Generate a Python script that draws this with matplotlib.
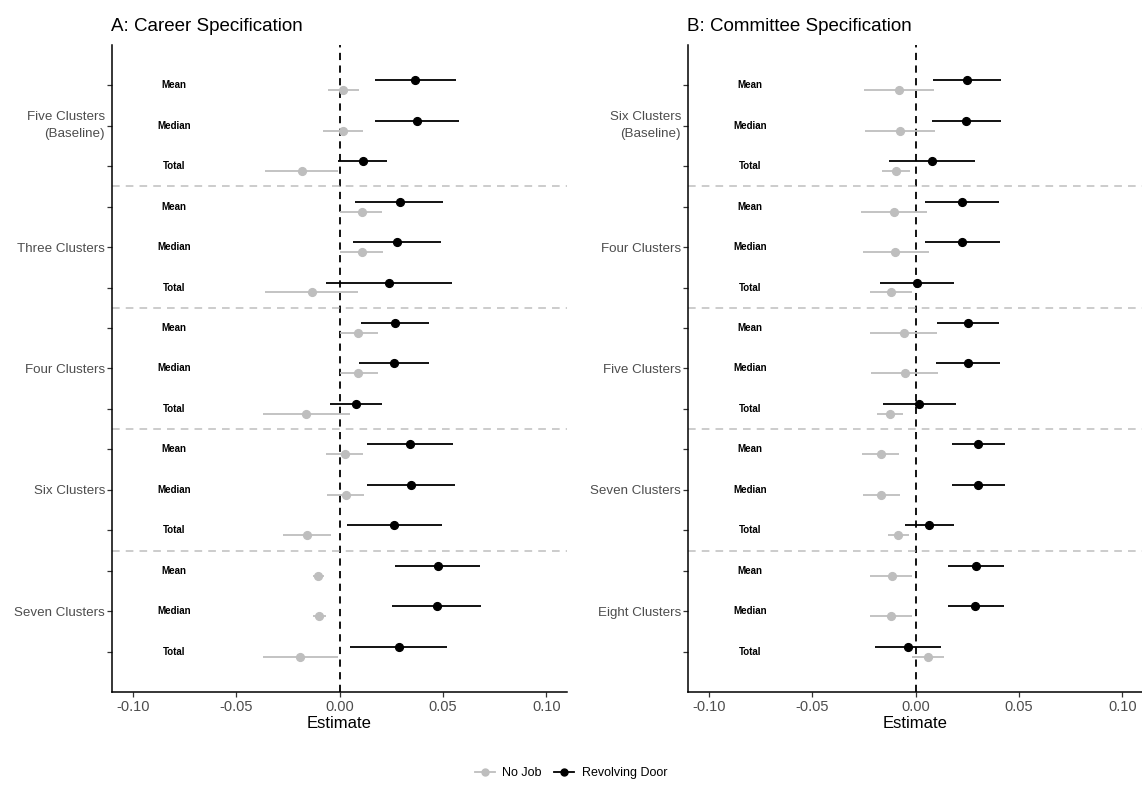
import matplotlib
matplotlib.use("Agg")
import matplotlib.pyplot as plt
from matplotlib.lines import Line2D
from matplotlib.transforms import offset_copy
import numpy as np

plt.rcParams['font.family'] = ['Liberation Sans', 'DejaVu Sans']

# rows top to bottom: Mean, Median, Total for each specification
stats = ["Mean", "Median", "Total"] * 5

# Panel A: career specification
groups_a = ["Five Clusters\n(Baseline)", "Three Clusters", "Four Clusters", "Six Clusters", "Seven Clusters"]
rev_a = [0.0367, 0.0373, 0.0113, 0.0291, 0.0277, 0.0240, 0.0267, 0.0262, 0.0079,
         0.0339, 0.0347, 0.0264, 0.0474, 0.0469, 0.0286]
rev_a_lo = [0.0170, 0.0172, -0.0005, 0.0077, 0.0063, -0.0064, 0.0103, 0.0093, -0.0048,
            0.0133, 0.0135, 0.0034, 0.0267, 0.0256, 0.0050]
rev_a_hi = [0.0564, 0.0577, 0.0232, 0.0502, 0.0492, 0.0543, 0.0434, 0.0432, 0.0206,
            0.0547, 0.0558, 0.0497, 0.0680, 0.0683, 0.0521]
nojob_a = [0.0019, 0.0018, -0.0182, 0.0108, 0.0108, -0.0135, 0.0090, 0.0088, -0.0161,
           0.0027, 0.0029, -0.0156, -0.0103, -0.0098, -0.0190]
nojob_a_lo = [-0.0056, -0.0080, -0.0359, 0.0002, 0.0002, -0.0359, 0.0000, 0.0000, -0.0370,
              -0.0063, -0.0061, -0.0273, -0.0129, -0.0130, -0.0371]
nojob_a_hi = [0.0093, 0.0113, -0.0005, 0.0207, 0.0209, 0.0087, 0.0185, 0.0186, 0.0050,
              0.0114, 0.0119, -0.0039, -0.0076, -0.0063, -0.0006]

# Panel B: committee specification
groups_b = ["Six Clusters\n(Baseline)", "Four Clusters", "Five Clusters", "Seven Clusters", "Eight Clusters"]
rev_b = [0.0247, 0.0245, 0.0079, 0.0224, 0.0224, 0.0005, 0.0253, 0.0253, 0.0019,
         0.0303, 0.0302, 0.0065, 0.0290, 0.0289, -0.0035]
rev_b_lo = [0.0085, 0.0079, -0.0127, 0.0047, 0.0044, -0.0173, 0.0103, 0.0098, -0.0156,
            0.0176, 0.0174, -0.0052, 0.0158, 0.0155, -0.0197]
rev_b_hi = [0.0411, 0.0413, 0.0287, 0.0403, 0.0408, 0.0184, 0.0405, 0.0408, 0.0198,
            0.0431, 0.0431, 0.0184, 0.0426, 0.0426, 0.0124]
nojob_b = [-0.0079, -0.0076, -0.0095, -0.0105, -0.0097, -0.0118, -0.0058, -0.0053, -0.0123,
           -0.0169, -0.0168, -0.0085, -0.0116, -0.0119, 0.0060]
nojob_b_lo = [-0.0247, -0.0242, -0.0161, -0.0263, -0.0256, -0.0221, -0.0221, -0.0216, -0.0184,
              -0.0258, -0.0255, -0.0135, -0.0218, -0.0219, -0.0016]
nojob_b_hi = [0.0089, 0.0094, -0.0027, 0.0055, 0.0063, -0.0015, 0.0103, 0.0108, -0.0063,
              -0.0081, -0.0077, -0.0034, -0.0015, -0.0018, 0.0137]

x_ticks = [-0.10, -0.05, 0.00, 0.05, 0.10]

GRAY = "#BEBEBE"
TXT = "#4D4D4D"

fig = plt.figure(figsize=(11.42, 7.85), dpi=100)


def draw_panel(rect, title, groups, rev, rlo, rhi, nj, nlo, nhi):
    ax = fig.add_axes(rect)
    rows = np.arange(1, len(stats) + 1)
    off = 0.123
    ax.hlines(rows + off, nlo, nhi, color=GRAY, lw=1.3, zorder=2)
    ax.plot(nj, rows + off, 'o', color=GRAY, ms=5.6, zorder=3)
    ax.hlines(rows - off, rlo, rhi, color="black", lw=1.3, zorder=2)
    ax.plot(rev, rows - off, 'o', color="black", ms=5.6, zorder=3)
    ax.axvline(0, color="black", ls=(0, (4, 3)), lw=1.3, zorder=1)
    for b in [3.5, 6.5, 9.5, 12.5]:
        ax.axhline(b, color=GRAY, ls=(0, (5, 4)), lw=1.1, zorder=1)
    for r, s in zip(rows, stats):
        ax.text(-0.08, r, s, ha="center", va="center", fontsize=7, fontweight="bold")
    ax.set_xlim(-0.11, 0.11)
    ax.set_ylim(15.99, 0.01)
    ax.set_yticks(rows)
    ax.set_yticklabels([])
    # group labels next to the middle (Median) tick of each block
    tr = offset_copy(ax.get_yaxis_transform(), fig=fig, x=-5, y=0, units="points")
    for g, name in enumerate(groups):
        ax.text(0, rows[g * 3 + 1], name, transform=tr, ha="right",
                va="center" if "\n" in name else "center_baseline",
                multialignment="right", linespacing=1.6, fontsize=9.6, color=TXT)
    ax.set_xticks(x_ticks)
    ax.set_xticklabels(["%.2f" % t for t in x_ticks], fontsize=10.5, color=TXT)
    ax.tick_params(axis="both", length=3.5, width=0.9, color="#333333")
    ax.tick_params(axis="x", pad=2.5)
    ax.spines["top"].set_visible(False)
    ax.spines["right"].set_visible(False)
    ax.spines["left"].set_linewidth(1.1)
    ax.spines["bottom"].set_linewidth(1.1)
    ax.set_xlabel("Estimate", fontsize=12, labelpad=1)
    ax.set_title(title, loc="left", fontsize=13.5, pad=10, x=-0.002)
    return ax


draw_panel([0.0981, 0.1185, 0.3984, 0.8242], "A: Career Specification", groups_a,
           rev_a, rev_a_lo, rev_a_hi, nojob_a, nojob_a_lo, nojob_a_hi)
draw_panel([0.6025, 0.1185, 0.3984, 0.8242], "B: Committee Specification", groups_b,
           rev_b, rev_b_lo, rev_b_hi, nojob_b, nojob_b_lo, nojob_b_hi)

handles = [Line2D([], [], color=GRAY, marker='o', ms=5, lw=1.3),
           Line2D([], [], color="black", marker='o', ms=5, lw=1.3)]
fig.legend(handles, ["No Job", "Revolving Door"], loc="center", ncol=2,
           bbox_to_anchor=(0.5, 0.015), frameon=False, fontsize=9,
           handlelength=1.6, columnspacing=1.0, handletextpad=0.6)

fig.savefig("out.png", dpi=100)
